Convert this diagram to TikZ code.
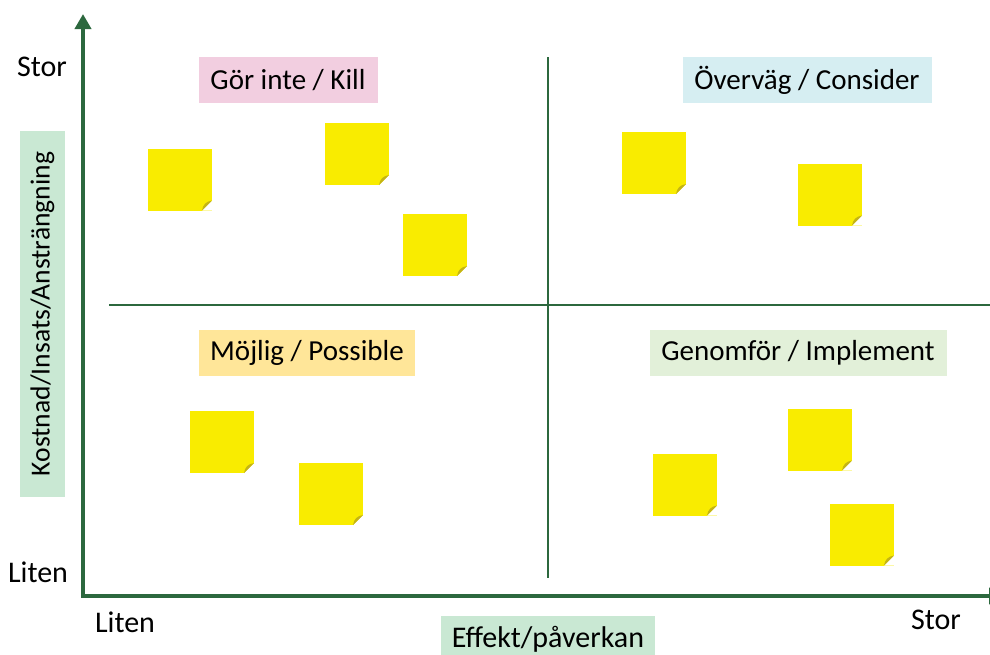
\documentclass[tikz,border=0pt]{standalone}
\usepackage{fontspec}
\setmainfont{Carlito}
\usetikzlibrary{arrows.meta}
\definecolor{axisgreen}{RGB}{44,104,62}
\definecolor{noteyellow}{RGB}{249,236,0}
\definecolor{notefold}{RGB}{196,180,20}
\definecolor{killpink}{RGB}{242,206,224}
\definecolor{considercyan}{RGB}{214,238,242}
\definecolor{possibleyellow}{RGB}{255,230,153}
\definecolor{implementgreen}{RGB}{226,240,217}
\definecolor{axismint}{RGB}{201,232,211}

\begin{document}
\begin{tikzpicture}[x=0.5pt, y=-0.5pt,
    font=\fontsize{15}{18}\selectfont,
    axis/.style={draw=axisgreen, line width=2pt},
    divider/.style={draw=axisgreen, line width=1pt},
    quadlabel/.style={inner sep=0pt, minimum height=23pt, text=black,
                      font=\fontsize{14.5}{17}\selectfont},
    axislabel/.style={fill=axismint, inner sep=0pt, text=black},
    note/.style={fill=noteyellow, inner sep=0pt,
                 minimum width=32pt, minimum height=31pt,
                 path picture={
                   \fill[white] ([xshift=-5pt]path picture bounding box.south east)
                     -- (path picture bounding box.south east)
                     -- ([yshift=5pt]path picture bounding box.south east) -- cycle;
                   \fill[notefold] ([xshift=-5pt]path picture bounding box.south east)
                     .. controls ([xshift=-4.5pt,yshift=3pt]path picture bounding box.south east)
                     and ([xshift=-3pt,yshift=4.5pt]path picture bounding box.south east)
                     .. ([yshift=5pt]path picture bounding box.south east) -- cycle;
                 }},
]
\clip (0,0) rectangle (990,654);

% axes
\coordinate (origin) at (83,596);
\coordinate (ytop)   at (83,14);
\coordinate (xstart) at (81,596);
\coordinate (xend)   at (1004,596);
\draw[axis, -{Triangle[width=8pt, length=7.5pt]}] (origin) -- (ytop);
\draw[axis, -{Triangle[width=8pt, length=7.5pt]}] (xstart) -- (xend);

% quadrant dividers
\coordinate (vtop) at (548,57);
\coordinate (vbot) at (548,578);
\coordinate (hleft)  at (109,305);
\coordinate (hright) at (990,305);
\draw[divider] (vtop) -- (vbot);
\draw[divider] (hleft) -- (hright);

% axis texts
\node (ystor)  at (42,67)  {Stor};
\node (yliten) at (38,572) {Liten};
\node (xliten) at (125,622) {Liten};
\node (xstor)  at (936,620) {Stor};
\node[axislabel, minimum width=107pt, minimum height=23pt] (xlabel) at (548,639) {Effekt/påverkan};
\node[axislabel, rotate=90, minimum width=183pt, minimum height=22.5pt,
      font=\fontsize{13.8}{16}\selectfont] (ylabel) at (42.5,314) {Kostnad/Insats/Ansträngning};

% quadrant labels
\node[quadlabel, fill=killpink, minimum width=89.5pt]        (kill)      at (288,80)  {Gör inte / Kill};
\node[quadlabel, fill=considercyan, minimum width=124.5pt]   (consider)  at (807,80)  {Överväg / Consider};
\node[quadlabel, fill=possibleyellow, minimum width=108pt]   (possible)  at (307,353) {Möjlig / Possible};
\node[quadlabel, fill=implementgreen, minimum width=148.5pt] (implement) at (798,353) {Genomför / Implement};

% sticky notes
\node[note] (kill1)      at (180,179.5) {};
\node[note] (kill2)      at (357,154)   {};
\node[note] (kill3)      at (435,245)   {};
\node[note] (consider1)  at (654,163)   {};
\node[note] (consider2)  at (830,194.5) {};
\node[note] (possible1)  at (222,442)   {};
\node[note] (possible2)  at (331,494)   {};
\node[note] (implement1) at (685,484.5) {};
\node[note] (implement2) at (820,439.5) {};
\node[note] (implement3) at (862,534.5) {};
\end{tikzpicture}
\end{document}
